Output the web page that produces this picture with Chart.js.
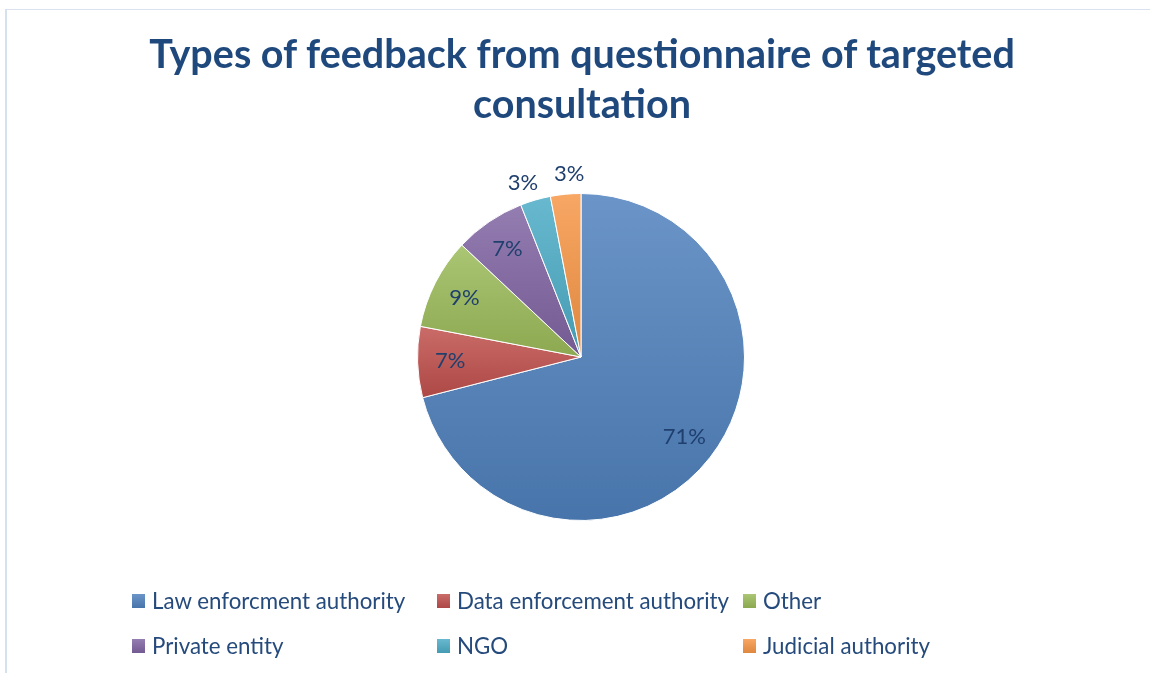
<!DOCTYPE html>
<html lang="en">
<head>
<meta charset="UTF-8">
<title>Types of feedback</title>
<script src="https://cdn.jsdelivr.net/npm/chart.js"></script>
<style>
  html, body { margin: 0; padding: 0; background: #fff; }
  body { width: 1150px; height: 673px; position: relative; overflow: hidden; font-family: Lato, "Open Sans", sans-serif; }
  #frame { position: absolute; left: 5px; top: 9px; width: 1200px; height: 700px;
           border-top: 1px solid #d9e2ee; border-left: 2px solid #d6e1f0; }
  #title { position: absolute; left: 0; width: 1164px; top: 28px; text-align: center;
           font-weight: bold; font-size: 39.5px; line-height: 50px; color: #1f497d; }
  #chartBox { position: absolute; left: 0; top: 0; width: 1150px; height: 673px; }
  .leg { position: absolute; font-size: 22.3px; color: #254a7c; white-space: nowrap; line-height: 24px; }
  .leg i { position: absolute; left: -20px; top: 5px; width: 13px; height: 14px; }
</style>
</head>
<body>
<div id="frame"></div>
<div id="chartBox"><canvas id="myChart" width="1150" height="673"></canvas></div>
<div id="title">Types of feedback from questionnaire of targeted<br>consultation</div>
<div id="legend"></div>
<script>
    var categories = ['Law enforcment authority', 'Data enforcement authority', 'Other',
                      'Private entity', 'NGO', 'Judicial authority'];
    var shares = [71, 7, 9, 7, 3, 3];
    var colors = ['#4f81bd', '#c0504d', '#9bbb59', '#8064a2', '#4bacc6', '#f79646'];

    function shade(hex, amt) {
        var n = parseInt(hex.slice(1), 16);
        var rgb = [n >> 16, (n >> 8) & 255, n & 255].map(function (c) {
            var v = amt > 0 ? c + (255 - c) * amt : c * (1 + amt);
            return Math.round(Math.max(0, Math.min(255, v)));
        });
        return 'rgb(' + rgb.join(',') + ')';
    }

    // vertical extent of a slice, so each slice gets its own top-to-bottom gradient
    function sliceY(i, cy, r) {
        var total = shares.reduce(function (a, b) { return a + b; }, 0);
        var before = 0;
        for (var k = 0; k < i; k++) before += shares[k];
        var a0 = -Math.PI / 2 + before / total * 2 * Math.PI;
        var a1 = a0 + shares[i] / total * 2 * Math.PI;
        var ymin = cy, ymax = cy;
        for (var s = 0; s <= 60; s++) {
            var y = cy + r * Math.sin(a0 + (a1 - a0) * s / 60);
            ymin = Math.min(ymin, y); ymax = Math.max(ymax, y);
        }
        return [ymin, ymax];
    }

    var pctLabels = {
        id: 'pctLabels',
        afterDatasetsDraw: function (chart) {
            var ctx = chart.ctx;
            var total = shares.reduce(function (a, b) { return a + b; }, 0);
            ctx.save();
            ctx.font = '22px Lato, "Open Sans", sans-serif';
            ctx.fillStyle = '#1f3f6e';
            ctx.textAlign = 'center';
            ctx.textBaseline = 'middle';
            chart.getDatasetMeta(0).data.forEach(function (arc, i) {
                var p = arc.getProps(['x', 'y', 'startAngle', 'endAngle', 'outerRadius'], true);
                var mid = (p.startAngle + p.endAngle) / 2;
                var small = shares[i] / total < 0.05;
                var k = small ? 1.12 : 0.8;
                // small outside labels get pushed apart a bit like Excel does
                var nudge = small ? (i === shares.length - 1 ? 0.03 : -0.04) : 0;
                ctx.fillText(shares[i] + '%', p.x + Math.cos(mid + nudge) * p.outerRadius * k,
                             p.y + Math.sin(mid + nudge) * p.outerRadius * k);
            });
            ctx.restore();
        }
    };

    new Chart(document.getElementById('myChart'), {
        type: 'pie',
        data: {
            labels: categories,
            datasets: [{
                data: shares,
                borderColor: '#ffffff',
                borderWidth: 1,
                backgroundColor: function (c) {
                    var a = c.chart.chartArea;
                    var base = colors[c.dataIndex];
                    if (!a) return base;
                    var cy = (a.top + a.bottom) / 2;
                    var r = Math.min(a.right - a.left, a.bottom - a.top) / 2;
                    var ext = sliceY(c.dataIndex, cy, r);
                    var g = c.chart.ctx.createLinearGradient(0, ext[0], 0, ext[1]);
                    g.addColorStop(0, shade(base, 0.16));
                    g.addColorStop(1, shade(base, -0.1));
                    return g;
                }
            }]
        },
        options: {
            responsive: false,
            animation: false,
            layout: { padding: { top: 193, bottom: 152, left: 12, right: 0 } },
            plugins: { legend: { display: false }, tooltip: { enabled: false } }
        },
        plugins: [pctLabels]
    });

    // legend: three columns, two rows
    var legCols = [152, 457, 763];
    var legRows = [589, 634];
    var legend = document.getElementById('legend');
    categories.forEach(function (name, i) {
        var d = document.createElement('div');
        d.className = 'leg';
        d.style.left = legCols[i % 3] + 'px';
        d.style.top = legRows[Math.floor(i / 3)] + 'px';
        d.innerHTML = '<i style="background:linear-gradient(' + shade(colors[i], 0.16) + ',' +
                      shade(colors[i], -0.1) + ')"></i>' + name;
        legend.appendChild(d);
    });
</script>
</body>
</html>
